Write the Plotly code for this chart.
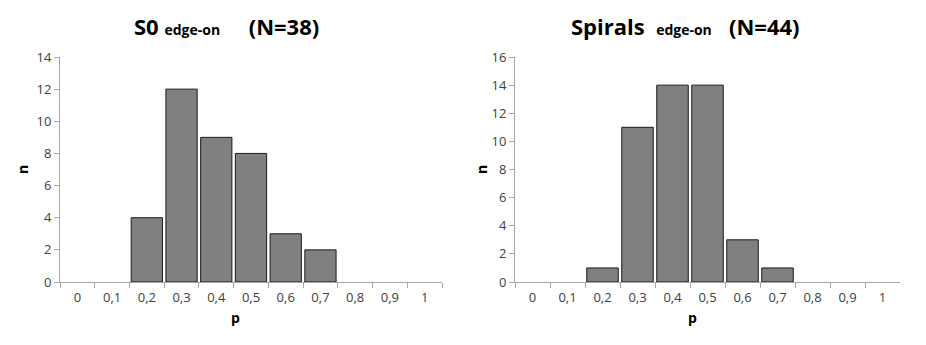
import plotly.graph_objects as go

# p bins and counts per class
p_labels = ["0", "0,1", "0,2", "0,3", "0,4", "0,5", "0,6", "0,7", "0,8", "0,9", "1"]
s0_counts = [0, 0, 4, 12, 9, 8, 3, 2, 0, 0, 0]
spiral_counts = [0, 0, 1, 11, 14, 14, 3, 1, 0, 0, 0]

s0_ticks = [0, 2, 4, 6, 8, 10, 12, 14]
spiral_ticks = [0, 2, 4, 6, 8, 10, 12, 14, 16]

W, H = 926, 345
FONT = "Open Sans"
AXIS_GREY = "#a6a6a6"
LABEL_GREY = "#404040"


def bar(counts, xa, ya):
    # empty bins get no outline, so the grey axis line shows through
    widths = [1 if c else 0 for c in counts]
    return go.Bar(x=p_labels, y=counts, xaxis=xa, yaxis=ya, showlegend=False,
                  hoverinfo="x+y",
                  marker=dict(color="#808080", line=dict(color="#1a1a1a", width=widths)))


fig = go.Figure()
fig.add_trace(bar(s0_counts, "x", "y"))
fig.add_trace(bar(spiral_counts, "x2", "y2"))

y_dom = [63 / H, 288 / H]


def xaxis(domain, anchor):
    return dict(domain=domain, anchor=anchor, type="category", showgrid=False,
                automargin=False, ticklabelstandoff=3,
                showline=True, linecolor=AXIS_GREY, linewidth=1,
                ticks="outside", tickson="boundaries", ticklen=5, tickcolor=AXIS_GREY,
                tickfont=dict(family=FONT, size=13, color=LABEL_GREY), zeroline=False)


def yaxis(domain, anchor, vals):
    return dict(domain=domain, anchor=anchor, range=[0, vals[-1]], tickvals=vals,
                automargin=False,
                showgrid=False, showline=True, linecolor=AXIS_GREY, linewidth=1,
                ticks="outside", ticklen=5, tickcolor=AXIS_GREY, zeroline=False,
                tickfont=dict(family=FONT, size=13, color=LABEL_GREY))


fig.update_layout(
    template="none",
    width=W, height=H,
    margin=dict(l=0, r=0, t=0, b=0),
    paper_bgcolor="white", plot_bgcolor="white",
    bargap=0.1,
    xaxis=xaxis([60 / W, 442 / W], "y"),
    yaxis=yaxis(y_dom, "x", s0_ticks),
    xaxis2=xaxis([515 / W, 900 / W], "y2"),
    yaxis2=yaxis(y_dom, "x2", spiral_ticks),
)

titles = [
    (226 / W, "<b>S0</b> <b><span style='font-size:14px'>edge-on</span></b>     <b>(N=38)</b>"),
    (685 / W, "<b>Spirals</b>  <b><span style='font-size:14px'>edge-on</span></b>   <b>(N=44)</b>"),
]
for xc, txt in titles:
    fig.add_annotation(x=xc, y=1 - 26 / H, xref="paper", yref="paper", text=txt,
                       showarrow=False, xanchor="center", yanchor="middle",
                       font=dict(family=FONT, size=22, color="black"))

for xc in [235 / W, 692 / W]:
    fig.add_annotation(x=xc, y=1 - 317 / H, xref="paper", yref="paper", text="<b>p</b>",
                       showarrow=False, xanchor="center", yanchor="middle",
                       font=dict(family=FONT, size=14, color="black"))
for xc in [22 / W, 481 / W]:
    fig.add_annotation(x=xc, y=1 - 170 / H, xref="paper", yref="paper", text="<b>n</b>",
                       showarrow=False, textangle=-90, xanchor="center", yanchor="middle",
                       font=dict(family=FONT, size=14, color="black"))

# page body has a default 8px margin; drop it so the figure fills the window
fig.write_html("out.html", config={"displayModeBar": False},
               post_script="document.body.style.margin='0';")
